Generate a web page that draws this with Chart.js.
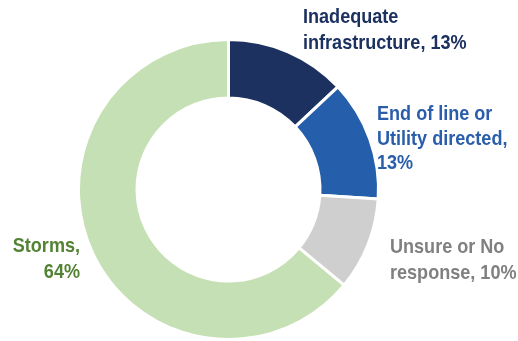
<!DOCTYPE html>
<html>
<head>
<meta charset="utf-8">
<script src="https://cdn.jsdelivr.net/npm/chart.js@4.4.1/dist/chart.umd.min.js"></script>
<style>
  html, body { margin: 0; padding: 0; background: #ffffff; }
  #wrap { width: 518px; height: 341px; position: relative; }
</style>
</head>
<body>
<div id="wrap"><canvas id="myChart"></canvas></div>
<script>
const categories = ["Inadequate infrastructure", "End of line or Utility directed", "Unsure or No response", "Storms"];
const shares = [13, 13, 10, 64];
const labelLines = [
    ["Inadequate", "infrastructure, 13%"],
    ["End of line or", "Utility directed,", "13%"],
    ["Unsure or No", "response, 10%"],
    ["Storms,", "64%"]
];
const sliceColors = ['#1c3160', '#255eab', '#d0cfd0', '#c5e0b4'];
const textColors = ['#1c3160', '#2a5eab', '#808080', '#548235'];

// where each label block sits: x, first baseline, line gap, alignment
const labelSpots = [
    {x: 303, y: 23, gap: 26, align: 'left'},
    {x: 377, y: 120, gap: 24.5, align: 'left'},
    {x: 390, y: 253, gap: 25.5, align: 'left'},
    {x: 80, y: 252, gap: 25.5, align: 'right'}
];

const sliceLabels = {
    id: 'sliceLabels',
    afterDraw(chart) {
        const ctx = chart.ctx;
        ctx.save();
        ctx.font = 'bold 21px "Liberation Sans", Arial, sans-serif';
        ctx.textBaseline = 'alphabetic';
        labelLines.forEach((lines, i) => {
            const spot = labelSpots[i];
            ctx.fillStyle = textColors[i];
            lines.forEach((line, j) => {
                ctx.save();
                ctx.translate(spot.x, spot.y + j * spot.gap);
                ctx.scale(0.86, 1);
                ctx.textAlign = spot.align;
                ctx.fillText(line, 0, 0);
                ctx.restore();
            });
        });
        ctx.restore();
    }
};

const ctx = document.getElementById('myChart').getContext('2d');
const myChart = new Chart(ctx, {
    type: 'doughnut',
    data: {
        labels: categories,
        datasets: [{
            data: shares,
            backgroundColor: sliceColors,
            borderColor: '#ffffff',
            borderWidth: 3
        }]
    },
    options: {
        responsive: true,
        maintainAspectRatio: false,
        animation: false,
        cutout: '61%',
        layout: {
            padding: {left: 77, right: 138, top: 38, bottom: 0}
        },
        plugins: {
            legend: {display: false},
            tooltip: {enabled: false}
        }
    },
    plugins: [sliceLabels]
});
</script>
</body>
</html>
